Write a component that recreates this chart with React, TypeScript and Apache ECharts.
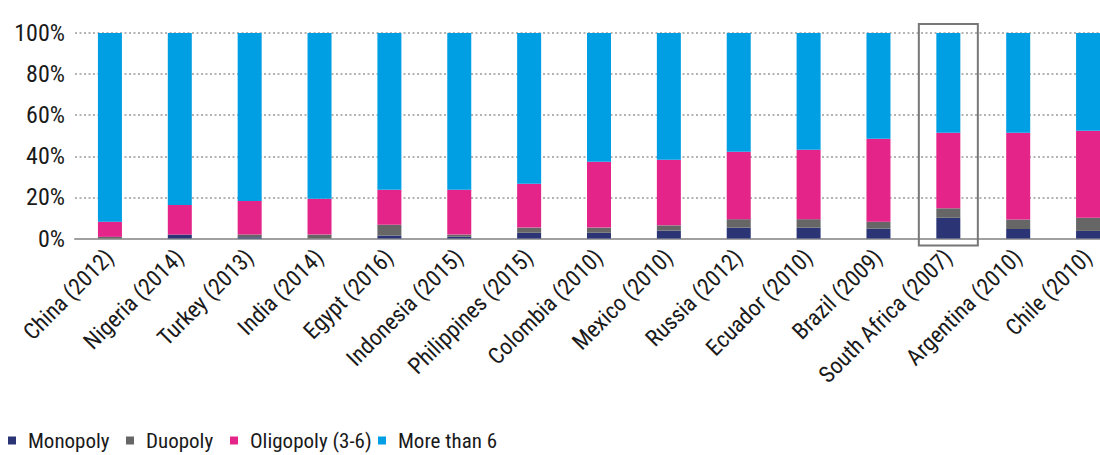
import React, { useEffect, useRef } from "react";
import * as echarts from "echarts";

const categories = [
  "China (2012)",
  "Nigeria (2014)",
  "Turkey (2013)",
  "India (2014)",
  "Egypt (2016)",
  "Indonesia (2015)",
  "Philippines (2015)",
  "Colombia (2010)",
  "Mexico (2010)",
  "Russia (2012)",
  "Ecuador (2010)",
  "Brazil (2009)",
  "South Africa (2007)",
  "Argentina (2010)",
  "Chile (2010)",
];
const monopoly = [0, 1.9, 0.6, 0, 1.4, 0.9, 2.8, 2.8, 3.8, 5.3, 5.3, 4.8, 10.1, 4.6, 3.7];
const duopoly = [0.8, 0, 1.3, 1.9, 5.3, 1.0, 2.5, 2.5, 2.6, 4.1, 4.1, 3.4, 4.6, 4.6, 6.4];
const oligopoly = [7.4, 14.4, 16.4, 17.4, 17.0, 21.8, 21.4, 32.1, 31.9, 32.8, 33.8, 40.3, 36.8, 42.3, 42.3];
const moreThan6 = [91.8, 83.7, 81.7, 80.7, 76.3, 76.3, 73.3, 62.6, 61.7, 57.8, 56.8, 51.5, 48.5, 48.5, 47.6];
const seriesNames = ["Monopoly", "Duopoly", "Oligopoly (3-6)", "More than 6"];
const highlighted = "South Africa (2007)";

const FONT = "'Roboto Condensed', 'DejaVu Sans Condensed', sans-serif";
const COLORS = ["#2b3576", "#666666", "#e5248a", "#009fe3"];

export default function App() {
  const ref = useRef<HTMLDivElement>(null);
  useEffect(() => {
    if (!ref.current) return;
    const chart = echarts.init(ref.current, null, { renderer: "svg" });
    const values = [monopoly, duopoly, oligopoly, moreThan6];
    const legendLefts = [3, 121, 225, 373];
    chart.setOption({
      animation: false,
      textStyle: { fontFamily: FONT },
      grid: { left: 75, right: 7, top: 33, bottom: 216.5, containLabel: false },
      legend: seriesNames.map((name, i) => ({
        data: [name],
        left: legendLefts[i],
        top: 425,
        icon: "rect",
        itemWidth: 8,
        itemHeight: 8,
        selectedMode: false,
        textStyle: { fontFamily: FONT, fontSize: 21, color: "#1a1a1a", padding: [0, 0, 0, 7] },
      })),
      xAxis: {
        type: "category",
        data: categories,
        axisLine: { show: true, lineStyle: { color: "#a0a0a0", width: 2 } },
        axisTick: { show: false },
        axisLabel: {
          interval: 0,
          rotate: 45,
          fontSize: 23,
          color: "#1a1a1a",
          fontFamily: FONT,
          margin: 15,
        },
      },
      yAxis: {
        type: "value",
        min: 0,
        max: 100,
        interval: 20,
        axisLine: { show: false },
        axisTick: { show: false },
        axisLabel: {
          formatter: "{value}%",
          fontSize: 24,
          color: "#1a1a1a",
          fontFamily: FONT,
          margin: 10,
        },
        splitLine: { show: true, lineStyle: { color: "#9a9a9a", width: 1.5, type: [2, 2.5] } },
      },
      series: seriesNames.map((name, i) => ({
        name,
        type: "bar",
        stack: "total",
        barWidth: 24,
        data: values[i],
        itemStyle: { color: COLORS[i] },
      })),
    });
    const cx = chart.convertToPixel({ xAxisIndex: 0 }, highlighted) as number;
    const yTop = chart.convertToPixel({ yAxisIndex: 0 }, 100) as number;
    const yBot = chart.convertToPixel({ yAxisIndex: 0 }, 0) as number;
    chart.setOption({
      graphic: [
        {
          type: "rect",
          z: 10,
          shape: { x: cx - 29.5, y: yTop - 9, width: 59, height: yBot - yTop + 16 },
          style: { fill: "none", stroke: "#777777", lineWidth: 2 },
        },
      ],
    });
    return () => chart.dispose();
  }, []);
  return (
    <div style={{ position: "absolute", left: 0, top: 0, width: 1100, height: 455, overflow: "hidden", background: "#fff" }}>
      <div ref={ref} style={{ width: 1130, height: 455 }} />
    </div>
  );
}
